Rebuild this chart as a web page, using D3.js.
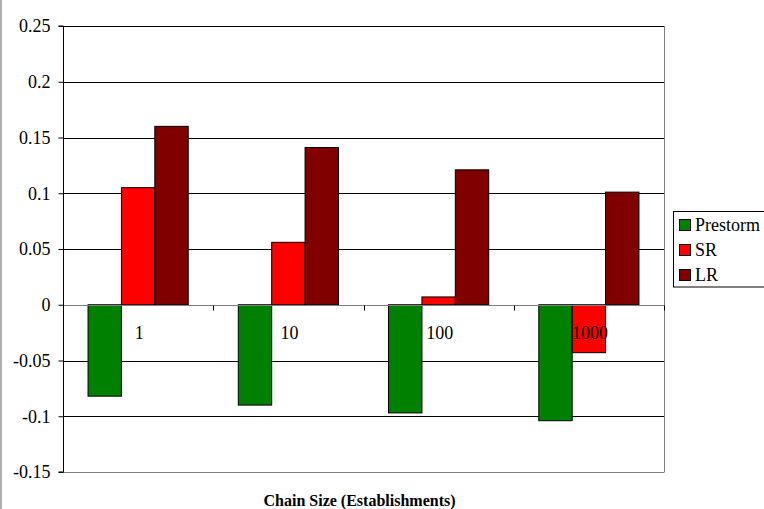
<!DOCTYPE html>
<html>
<head>
<meta charset="utf-8">
<script src="https://cdn.jsdelivr.net/npm/d3@7/dist/d3.min.js"></script>
<style>
  body { margin: 0; background: #fff; }
  svg { display: block; }
</style>
</head>
<body>
<svg id="chart" width="764" height="509"></svg>
<script>
// Chain sizes on the category axis
const categories = ["1", "10", "100", "1000"];
// Series values per chain size
const prestorm = [-0.082, -0.090, -0.097, -0.104];
const sr = [0.105, 0.056, 0.007, -0.043];
const lr = [0.160, 0.141, 0.121, 0.101];
const seriesNames = ["Prestorm", "SR", "LR"];
const seriesColors = ["#008000", "#ff0000", "#800000"];
const yTicks = [0.25, 0.2, 0.15, 0.1, 0.05, 0, -0.05, -0.1, -0.15];
const xTitle = "Chain Size (Establishments)";

const FONT = "Liberation Serif";
const seriesValues = [prestorm, sr, lr];

const svg = d3.select("#chart");
const plot = { left: 63, right: 664, top: 26, bottom: 472 };

const x = d3.scaleBand().domain(categories).range([plot.left, plot.right]).paddingInner(0).paddingOuter(0);
const xInner = d3.scaleBand().domain(seriesNames).range([0, x.bandwidth()]).paddingInner(0).paddingOuter(0.75);
const y = d3.scaleLinear().domain([-0.15, 0.25]).range([plot.bottom, plot.top]);

// outer chart frame edge on the left
svg.append("line").attr("x1", 1).attr("x2", 1).attr("y1", 0).attr("y2", 509)
  .attr("stroke", "#b0b0b0").attr("stroke-width", 2);

// horizontal gridlines
svg.append("g").selectAll("line").data(yTicks.filter(t => t !== 0 && t !== -0.15)).join("line")
  .attr("x1", plot.left).attr("x2", plot.right)
  .attr("y1", d => Math.round(y(d)) + 0.5).attr("y2", d => Math.round(y(d)) + 0.5)
  .attr("stroke", "#000").attr("stroke-width", 1);

// plot border: bottom and right in grey
svg.append("line").attr("x1", plot.left).attr("x2", plot.right + 0.5)
  .attr("y1", Math.round(y(-0.15)) + 0.5).attr("y2", Math.round(y(-0.15)) + 0.5)
  .attr("stroke", "#808080");
svg.append("line").attr("x1", plot.right + 0.5).attr("x2", plot.right + 0.5)
  .attr("y1", plot.top).attr("y2", plot.bottom)
  .attr("stroke", "#808080");

// bars
const groups = svg.append("g").selectAll("g").data(categories).join("g")
  .attr("transform", d => `translate(${x(d)},0)`);
groups.selectAll("rect")
  .data((c, ci) => seriesNames.map((s, si) => ({ s, si, v: seriesValues[si][ci] })))
  .join("rect")
  .attr("x", d => xInner(d.s))
  .attr("width", xInner.bandwidth())
  .attr("y", d => y(Math.max(0, d.v)))
  .attr("height", d => Math.abs(y(d.v) - y(0)))
  .attr("fill", d => seriesColors[d.si])
  .attr("stroke", "#000").attr("stroke-width", 1);

// zero line with category ticks
const zeroY = Math.round(y(0)) + 0.5;
svg.append("line").attr("x1", plot.left).attr("x2", plot.right + 1)
  .attr("y1", zeroY).attr("y2", zeroY).attr("stroke", "#808080");
const catEdges = categories.slice(1).map(c => x(c)).concat([plot.right]);
svg.append("g").selectAll("line").data(catEdges).join("line")
  .attr("x1", d => Math.round(d) + 0.5).attr("x2", d => Math.round(d) + 0.5)
  .attr("y1", zeroY).attr("y2", zeroY + 5).attr("stroke", "#000");

// category labels just below zero
svg.append("g").selectAll("text").data(categories).join("text")
  .attr("x", d => x(d) + x.bandwidth() / 2 + 1)
  .attr("y", zeroY + 33)
  .attr("text-anchor", "middle")
  .attr("font-family", FONT)
  .attr("font-size", 18)
  .text(d => d);

// y axis
const yAxis = d3.axisLeft(y).tickValues(yTicks).tickSize(5).tickFormat(d => String(d));
const ga = svg.append("g").attr("transform", `translate(${plot.left + 0.5},0)`).call(yAxis)
  .attr("font-family", FONT);
ga.select(".domain").attr("stroke", "#000").attr("d", `M-5,${plot.top}H0V${plot.bottom}H-5`);
ga.selectAll(".tick line").attr("stroke", "#000");
ga.selectAll(".tick text")
  .attr("font-family", FONT)
  .attr("font-size", 18).attr("x", -13).attr("fill", "#000");

// x axis title
svg.append("text").attr("x", 359.5).attr("y", 506)
  .attr("text-anchor", "middle").attr("font-family", FONT)
  .attr("font-size", 16).attr("font-weight", "bold")
  .text(xTitle);

// legend
const lg = svg.append("g");
lg.append("rect").attr("x", 673.5).attr("y", 211.5).attr("width", 100).attr("height", 75.5)
  .attr("fill", "#fff").attr("stroke", "#000");
const items = lg.selectAll("g").data(seriesNames).join("g")
  .attr("transform", (d, i) => `translate(679,${219 + i * 25})`);
items.append("rect").attr("x", 0.5).attr("y", 0.5).attr("width", 11).attr("height", 11)
  .attr("fill", (d, i) => seriesColors[i]).attr("stroke", "#000");
items.append("text").attr("x", 16).attr("y", 12).attr("font-family", FONT)
  .attr("font-size", 18).text(d => d);
</script>
</body>
</html>
